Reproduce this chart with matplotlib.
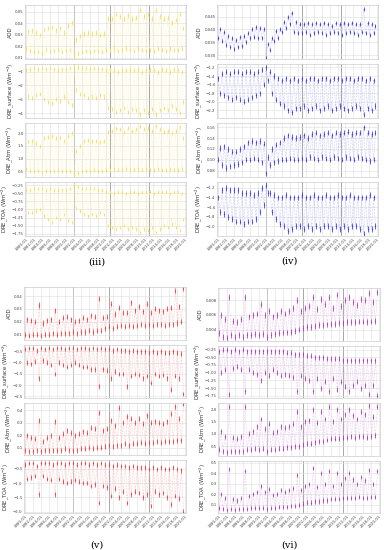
import numpy as np
import pandas as pd
import matplotlib
matplotlib.use("Agg")
import matplotlib.pyplot as plt
import matplotlib.dates as mdates

# seasonal low (Jan) / high (Jul) values per year, 1980-2019
years = list(range(1980, 2020))
ylabels = ["AOD", "DRE_surface (Wm$^{-2}$)", "DRE_Atm (Wm$^{-2}$)", "DRE_TOA (Wm$^{-2}$)"]
event_dates = ["1992-01-01", "2001-01-01", "2011-01-01"]

# --- panel (iii)
iii_aod_jan = [0.018,0.016,0.015,0.015,0.014,0.017,0.016,0.016,0.017,0.015,0.016,0.017, 0.011, 0.014,0.015,0.016,0.015,0.016,0.016,0.015, 0.017,0.017,0.018,0.016,0.017,0.018,0.017,0.016,0.018,0.017, 0.016,0.017,0.016,0.018,0.017,0.016,0.018,0.017,0.017,0.018]
iii_aod_jul = [0.033,0.034,0.032,0.030,0.035,0.036,0.037,0.034,0.036,0.032,0.038,0.041, 0.026, 0.029,0.031,0.032,0.031,0.032,0.030,0.031, 0.044,0.044,0.048,0.046,0.044,0.047,0.044,0.045,0.052,0.046, 0.048,0.044,0.052,0.046,0.044,0.045,0.041,0.043,0.048,0.036]
iii_sfc_jan = [-0.9,-0.8,-0.75,-0.8,-0.75,-0.8,-0.75,-0.8,-0.9,-0.8,-0.8,-0.75, -0.55, -0.7,-0.75,-0.75,-0.8,-0.75,-0.8,-0.8, -0.9,-0.85,-0.9,-1.0,-0.85,-0.9,-0.85,-0.9,-0.85,-1.0, -0.9,-0.85,-0.9,-1.0,-0.85,-0.9,-1.0,-0.85,-0.9,-1.0]
iii_sfc_jul = [-2.8,-2.9,-2.7,-2.6,-3.0,-3.2,-3.3,-3.0,-3.1,-2.8,-3.2,-3.4, -2.3, -2.6,-2.7,-2.9,-2.8,-2.9,-2.7,-2.8, -3.6,-3.7,-3.9,-3.8,-3.6,-3.9,-3.7,-3.8,-4.1,-3.8, -4.0,-3.7,-4.1,-3.8,-3.6,-3.8,-3.5,-3.7,-4.0,-3.2]
iii_atm_jan = [0.6,0.5,0.5,0.5,0.45,0.5,0.5,0.5,0.55,0.5,0.5,0.5, 0.35, 0.45,0.5,0.5,0.5,0.55,0.5,0.5, 0.55,0.55,0.6,0.55,0.55,0.6,0.55,0.55,0.6,0.55, 0.6,0.55,0.55,0.6,0.55,0.55,0.6,0.55,0.55,0.6]
iii_atm_jul = [1.7,1.7,1.6,1.5,1.8,1.85,1.9,1.8,1.85,1.7,1.9,2.0, 1.3, 1.5,1.7,1.75,1.7,1.7,1.65,1.7, 2.05,2.1,2.2,2.15,2.05,2.2,2.1,2.15,2.3,2.15, 2.2,2.1,2.3,2.15,2.05,2.1,2.0,2.1,2.25,1.8]
iii_toa_jan = [-0.4,-0.4,-0.35,-0.35,-0.35,-0.4,-0.35,-0.4,-0.4,-0.4,-0.4,-0.35, -0.22, -0.3,-0.35,-0.35,-0.35,-0.35,-0.4,-0.4, -0.45,-0.45,-0.5,-0.45,-0.45,-0.5,-0.45,-0.45,-0.5,-0.45, -0.45,-0.45,-0.5,-0.45,-0.45,-0.45,-0.5,-0.45,-0.45,-0.5]
iii_toa_jul = [-1.1,-1.1,-1.05,-1.0,-1.2,-1.3,-1.4,-1.25,-1.3,-1.15,-1.35,-1.4, -0.95, -1.05,-1.15,-1.2,-1.15,-1.2,-1.1,-1.15, -1.5,-1.55,-1.6,-1.55,-1.5,-1.6,-1.55,-1.6,-1.7,-1.6, -1.65,-1.55,-1.7,-1.6,-1.5,-1.55,-1.45,-1.55,-1.65,-1.3]
iii_err = [0.002, 0.15, 0.08, 0.05]

# --- panel (iv)
iv_aod_jan = [0.0365,0.0355,0.0340,0.0330,0.0325,0.0330,0.0335,0.0350,0.0365,0.0370,0.0365,0.0365, 0.0290, 0.0320,0.0355,0.0365,0.0390,0.0405,0.0420,0.0390, 0.0385,0.0385,0.0390,0.0380,0.0385,0.0390,0.0385,0.0380,0.0385,0.0390, 0.0385,0.0380,0.0385,0.0390,0.0385,0.0380,0.0390,0.0385,0.0380,0.0385]
iv_aod_jul = [0.0400,0.0390,0.0375,0.0365,0.0360,0.0370,0.0375,0.0385,0.0400,0.0410,0.0405,0.0400, 0.0345, 0.0365,0.0395,0.0400,0.0430,0.0450,0.0465,0.0430, 0.0420,0.0420,0.0425,0.0420,0.0425,0.0420,0.0425,0.0420,0.0415,0.0425, 0.0420,0.0425,0.0420,0.0425,0.0420,0.0420,0.0480,0.0425,0.0420,0.0415]
iv_sfc_jan = [-1.45,-1.35,-1.3,-1.35,-1.3,-1.3,-1.35,-1.3,-1.3,-1.35,-1.3,-1.25, -1.2, -1.3,-1.4,-1.45,-1.5,-1.45,-1.5,-1.45, -1.5,-1.45,-1.5,-1.45,-1.45,-1.5,-1.45,-1.45,-1.5,-1.45, -1.45,-1.5,-1.45,-1.45,-1.5,-1.45,-1.45,-1.5,-1.45,-1.5]
iv_sfc_jul = [-1.8,-1.85,-1.9,-1.95,-1.9,-1.95,-2.0,-1.95,-1.9,-1.85,-1.8,-1.6, -1.5, -1.8,-1.95,-2.05,-2.1,-2.2,-2.25,-2.15, -2.15,-2.1,-2.2,-2.15,-2.1,-2.2,-2.15,-2.1,-2.2,-2.15, -2.1,-2.15,-2.2,-2.15,-2.1,-2.15,-2.3,-2.15,-2.2,-2.1]
iv_atm_jan = [0.100,0.090,0.085,0.088,0.090,0.092,0.095,0.100,0.100,0.102,0.100,0.095, 0.075, 0.090,0.095,0.098,0.100,0.100,0.102,0.100, 0.100,0.102,0.100,0.105,0.102,0.100,0.105,0.102,0.100,0.105, 0.102,0.100,0.105,0.102,0.100,0.105,0.102,0.100,0.098,0.100]
iv_atm_jul = [0.122,0.125,0.120,0.115,0.115,0.120,0.125,0.132,0.135,0.132,0.135,0.130, 0.105, 0.120,0.128,0.132,0.140,0.145,0.142,0.140, 0.142,0.145,0.140,0.148,0.150,0.145,0.148,0.150,0.145,0.150, 0.148,0.150,0.152,0.148,0.150,0.150,0.160,0.150,0.148,0.150]
iv_toa_jan = [-1.4,-1.25,-1.2,-1.25,-1.25,-1.25,-1.3,-1.3,-1.3,-1.35,-1.3,-1.2, -1.15, -1.3,-1.35,-1.4,-1.4,-1.35,-1.4,-1.4, -1.4,-1.35,-1.4,-1.4,-1.35,-1.4,-1.4,-1.35,-1.4,-1.4, -1.35,-1.4,-1.4,-1.35,-1.4,-1.4,-1.4,-1.4,-1.35,-1.4]
iv_toa_jul = [-1.7,-1.75,-1.8,-1.85,-1.9,-1.9,-1.95,-1.9,-1.9,-1.85,-1.7,-1.55, -1.3, -1.7,-1.85,-1.95,-2.0,-2.1,-2.05,-2.0, -2.0,-2.05,-2.0,-2.05,-2.0,-2.05,-2.0,-2.0,-2.05,-2.0, -2.05,-2.0,-2.05,-2.0,-2.0,-2.05,-2.15,-2.05,-2.05,-2.0]
iv_err = [0.0008, 0.06, 0.005, 0.06]

# --- panel (v)
v_aod_jan = [0.010,0.009,0.010,0.010,0.009,0.010,0.010,0.011,0.010,0.011,0.011,0.011, 0.012, 0.011,0.012,0.012,0.013,0.012,0.013,0.013, 0.015,0.016,0.015,0.016,0.017,0.016,0.017,0.016,0.017,0.018, 0.017,0.018,0.017,0.018,0.018,0.017,0.018,0.018,0.019,0.020]
v_aod_jul = [0.022,0.021,0.020,0.033,0.019,0.021,0.022,0.029,0.020,0.023,0.024,0.022, 0.020, 0.021,0.023,0.022,0.025,0.024,0.038,0.023, 0.024,0.034,0.026,0.031,0.027,0.027,0.035,0.029,0.032,0.028, 0.034,0.027,0.030,0.029,0.028,0.030,0.031,0.044,0.032,0.046]
v_sfc_jan = [-0.4,-0.35,-0.35,-0.45,-0.35,-0.4,-0.35,-0.4,-0.35,-0.35,-0.4,-0.35, -0.35, -0.4,-0.35,-0.35,-0.4,-0.35,-0.4,-0.35, -0.4,-0.4,-0.45,-0.4,-0.45,-0.45,-0.5,-0.45,-0.5,-0.5, -0.5,-0.55,-0.5,-0.55,-0.5,-0.55,-0.55,-0.5,-0.55,-0.6]
v_sfc_jul = [-1.0,-1.05,-0.95,-1.7,-0.9,-1.0,-1.1,-1.5,-1.0,-1.1,-1.2,-1.1, -1.0, -1.1,-1.2,-1.2,-1.3,-1.3,-2.05,-1.3, -1.35,-1.7,-1.4,-1.5,-1.5,-2.05,-1.6,-1.5,-1.55,-1.7, -1.6,-1.9,-1.5,-1.6,-1.55,-1.7,-2.2,-1.6,-1.7,-2.4]
v_atm_jan = [0.08,0.07,0.07,0.08,0.07,0.08,0.08,0.08,0.08,0.08,0.09,0.08, 0.08, 0.08,0.09,0.09,0.10,0.09,0.10,0.10, 0.11,0.12,0.11,0.12,0.12,0.13,0.12,0.13,0.13,0.14, 0.13,0.14,0.14,0.15,0.14,0.15,0.15,0.15,0.16,0.16]
v_atm_jul = [0.20,0.18,0.17,0.32,0.15,0.18,0.20,0.31,0.18,0.21,0.24,0.22, 0.20, 0.21,0.23,0.22,0.26,0.25,0.38,0.24, 0.25,0.32,0.28,0.42,0.30,0.35,0.33,0.30,0.33,0.29, 0.36,0.30,0.31,0.30,0.29,0.31,0.37,0.43,0.33,0.45]
v_toa_jan = [-0.35,-0.3,-0.3,-0.4,-0.3,-0.3,-0.3,-0.35,-0.3,-0.3,-0.35,-0.3, -0.3, -0.35,-0.3,-0.3,-0.35,-0.3,-0.35,-0.3, -0.35,-0.35,-0.4,-0.35,-0.4,-0.4,-0.45,-0.4,-0.45,-0.45, -0.45,-0.5,-0.45,-0.5,-0.45,-0.5,-0.5,-0.45,-0.5,-0.55]
v_toa_jul = [-0.85,-0.8,-0.75,-1.4,-0.75,-0.85,-0.9,-1.4,-0.85,-0.95,-1.0,-0.95, -0.9, -0.95,-1.0,-1.0,-1.1,-1.05,-1.7,-1.1, -1.15,-1.45,-1.2,-1.5,-1.3,-1.7,-1.4,-1.3,-1.35,-1.5, -1.4,-1.8,-1.3,-1.4,-1.35,-1.5,-1.75,-1.45,-1.55,-2.0]
v_err = [0.002, 0.1, 0.02, 0.08]

# --- panel (vi)
vi_aod_jan = [0.0035,0.0030,0.0028,0.0032,0.0030,0.0032,0.0030,0.0033,0.0032,0.0034,0.0033,0.0034, 0.0030, 0.0033,0.0034,0.0035,0.0036,0.0036,0.0037,0.0038, 0.0040,0.0042,0.0043,0.0044,0.0045,0.0046,0.0046,0.0047,0.0048,0.0048, 0.0049,0.0049,0.0050,0.0050,0.0050,0.0051,0.0051,0.0050,0.0051,0.0052]
vi_aod_jul = [0.0060,0.0055,0.0085,0.0052,0.0050,0.0055,0.0085,0.0058,0.0060,0.0062,0.0075,0.0060, 0.0065, 0.0058,0.0060,0.0065,0.0062,0.0066,0.0070,0.0080, 0.0066,0.0070,0.0072,0.0085,0.0068,0.0082,0.0075,0.0085,0.0070,0.0088, 0.0072,0.0080,0.0085,0.0078,0.0074,0.0082,0.0080,0.0090,0.0078,0.0092]
vi_sfc_jan = [-0.3,-0.25,-0.25,-0.3,-0.25,-0.3,-0.25,-0.3,-0.3,-0.3,-0.3,-0.3, -0.3, -0.3,-0.3,-0.3,-0.3,-0.35,-0.35,-0.4, -0.4,-0.4,-0.45,-0.45,-0.5,-0.5,-0.5,-0.55,-0.55,-0.55, -0.55,-0.6,-0.6,-0.6,-0.6,-0.6,-0.6,-0.6,-0.6,-0.6]
vi_sfc_jul = [-1.0,-0.9,-1.7,-0.85,-0.8,-0.9,-1.6,-0.9,-1.0,-1.05,-1.25,-1.0, -1.1, -0.9,-1.0,-1.1,-1.05,-1.1,-1.15,-1.6, -1.1,-1.2,-1.25,-1.6,-1.2,-1.5,-1.3,-1.6,-1.2,-1.55, -1.3,-1.45,-1.6,-1.4,-1.3,-1.5,-1.4,-1.7,-1.4,-1.75]
vi_atm_jan = [0.35,0.3,0.25,0.3,0.3,0.3,0.3,0.35,0.35,0.4,0.35,0.4, 0.3, 0.35,0.35,0.4,0.4,0.45,0.45,0.5, 0.5,0.55,0.6,0.6,0.65,0.7,0.7,0.75,0.8,0.8, 0.8,0.85,0.85,0.9,0.85,0.9,0.9,0.85,0.9,0.95]
vi_atm_jul = [1.1,0.9,2.1,0.85,0.8,0.9,2.1,1.0,1.1,1.3,1.6,1.2, 1.4, 1.05,1.1,1.3,1.25,1.3,1.4,1.9, 1.3,1.5,1.55,2.0,1.45,1.9,1.6,2.1,1.5,2.0, 1.6,1.8,2.0,1.75,1.6,1.9,1.8,2.15,1.7,2.1]
vi_toa_jan = [0.07,0.06,0.05,0.06,0.05,0.06,0.06,0.06,0.07,0.07,0.07,0.07, 0.06, 0.07,0.07,0.08,0.08,0.08,0.09,0.09, 0.10,0.11,0.12,0.12,0.13,0.13,0.14,0.14,0.15,0.15, 0.15,0.16,0.16,0.16,0.16,0.17,0.16,0.16,0.17,0.17]
vi_toa_jul = [0.20,0.16,0.44,0.15,0.14,0.16,0.42,0.18,0.20,0.22,0.28,0.22, 0.25, 0.19,0.20,0.24,0.22,0.24,0.26,0.38, 0.24,0.28,0.30,0.45,0.27,0.40,0.30,0.42,0.28,0.40, 0.30,0.35,0.40,0.34,0.30,0.36,0.33,0.43,0.30,0.42]
vi_err = [0.0004, 0.08, 0.1, 0.02]

W, H = 384, 550


def series(jan, jul):
    dates, vals = [], []
    for y, a, b in zip(years, jan, jul):
        dates += [pd.Timestamp(f"{y}-01-15"), pd.Timestamp(f"{y}-07-15")]
        vals += [a, b]
    return dates, np.array(vals)


def draw_panel(fig, box, data, errs, color, light, ylims, yticks, caption, cap_xy):
    x0, x1, y0, y1 = box
    gap = 5
    h = (y1 - y0 - 3 * gap) / 4
    for i, (jan, jul) in enumerate(data):
        top = y0 + i * (h + gap)
        ax = fig.add_axes([x0 / W, 1 - (top + h) / H, (x1 - x0) / W, h / H])
        d, v = series(jan, jul)
        ax.plot(d, v, ls=":", lw=0.4, color=light)
        ax.vlines(d, v - errs[i], v + errs[i], colors=color, lw=0.55)
        ax.plot(d, v, ls="none", marker="o", ms=0.9, mfc=color, mec="none")
        for ev in event_dates:
            ax.axvline(pd.Timestamp(ev), color="#999999", lw=0.6, zorder=0)
        ax.set_xlim(pd.Timestamp("1979-10-01"), pd.Timestamp("2020-03-01"))
        ax.set_ylim(*ylims[i])
        ax.set_yticks(yticks[i])
        ax.xaxis.set_major_locator(mdates.YearLocator(2))
        ax.xaxis.set_major_formatter(mdates.DateFormatter("%Y-%m"))
        ax.grid(True, color="#dddddd", lw=0.4)
        ax.set_axisbelow(True)
        ax.tick_params(length=0, labelsize=2.8, pad=1, colors="#444444")
        for s in ax.spines.values():
            s.set_color("#cccccc")
            s.set_linewidth(0.5)
        ax.set_ylabel(ylabels[i], fontsize=3.8, labelpad=1.5, color="#333333")
        if i < 3:
            ax.tick_params(labelbottom=False)
        else:
            for lbl in ax.get_xticklabels():
                lbl.set_rotation(45)
                lbl.set_ha("right")
                lbl.set_rotation_mode("anchor")
    fig.text(cap_xy[0] / W, 1 - cap_xy[1] / H, caption, family="DejaVu Serif",
             fontsize=7, ha="center", va="center")


fig = plt.figure(figsize=(W / 100, H / 100), dpi=100)

draw_panel(fig, (25, 186, 5, 236),
           [(iii_aod_jan, iii_aod_jul), (iii_sfc_jan, iii_sfc_jul),
            (iii_atm_jan, iii_atm_jul), (iii_toa_jan, iii_toa_jul)],
           iii_err, "#FFDD44", "#FFEE99",
           [(0.009, 0.056), (-4.35, -0.45), (0.28, 2.4), (-1.82, -0.15)],
           [[0.01, 0.02, 0.03, 0.04, 0.05], [-1, -2, -3, -4], [0.5, 1.0, 1.5, 2.0],
            [-0.25, -0.5, -0.75, -1.0, -1.25, -1.5, -1.75]],
           "(iii)", (97, 262))

draw_panel(fig, (217, 378, 5, 236),
           [(iv_aod_jan, iv_aod_jul), (iv_sfc_jan, iv_sfc_jul),
            (iv_atm_jan, iv_atm_jul), (iv_toa_jan, iv_toa_jul)],
           iv_err, "#3535FF", "#A0A0FF",
           [(0.0285, 0.0495), (-2.38, -1.12), (0.068, 0.168), (-2.2, -1.08)],
           [[0.030, 0.035, 0.040, 0.045], [-1.2, -1.4, -1.6, -1.8, -2.0, -2.2],
            [0.08, 0.10, 0.12, 0.14, 0.16], [-1.2, -1.4, -1.6, -1.8, -2.0]],
           "(iv)", (289, 261))

draw_panel(fig, (24, 186, 287, 513),
           [(v_aod_jan, v_aod_jul), (v_sfc_jan, v_sfc_jul),
            (v_atm_jan, v_atm_jul), (v_toa_jan, v_toa_jul)],
           v_err, "#FF3535", "#FFA0A0",
           [(0.006, 0.047), (-2.55, -0.2), (0.04, 0.46), (-2.05, -0.2)],
           [[0.01, 0.02, 0.03, 0.04], [-0.5, -1.0, -1.5, -2.0, -2.5],
            [0.1, 0.2, 0.3, 0.4], [-0.5, -1.0, -1.5, -2.0]],
           "(v)", (97, 545))

draw_panel(fig, (218, 380, 288, 513),
           [(vi_aod_jan, vi_aod_jul), (vi_sfc_jan, vi_sfc_jul),
            (vi_atm_jan, vi_atm_jul), (vi_toa_jan, vi_toa_jul)],
           vi_err, "#B035C0", "#E0A0E8",
           [(0.0025, 0.0097), (-1.82, -0.12), (0.12, 2.25), (0.02, 0.52)],
           [[0.004, 0.006, 0.008], [-0.25, -0.5, -0.75, -1.0, -1.25, -1.5, -1.75],
            [0.5, 1.0, 1.5, 2.0], [0.1, 0.2, 0.3, 0.4, 0.5]],
           "(vi)", (289, 545))

fig.savefig("out.png", dpi=100)
